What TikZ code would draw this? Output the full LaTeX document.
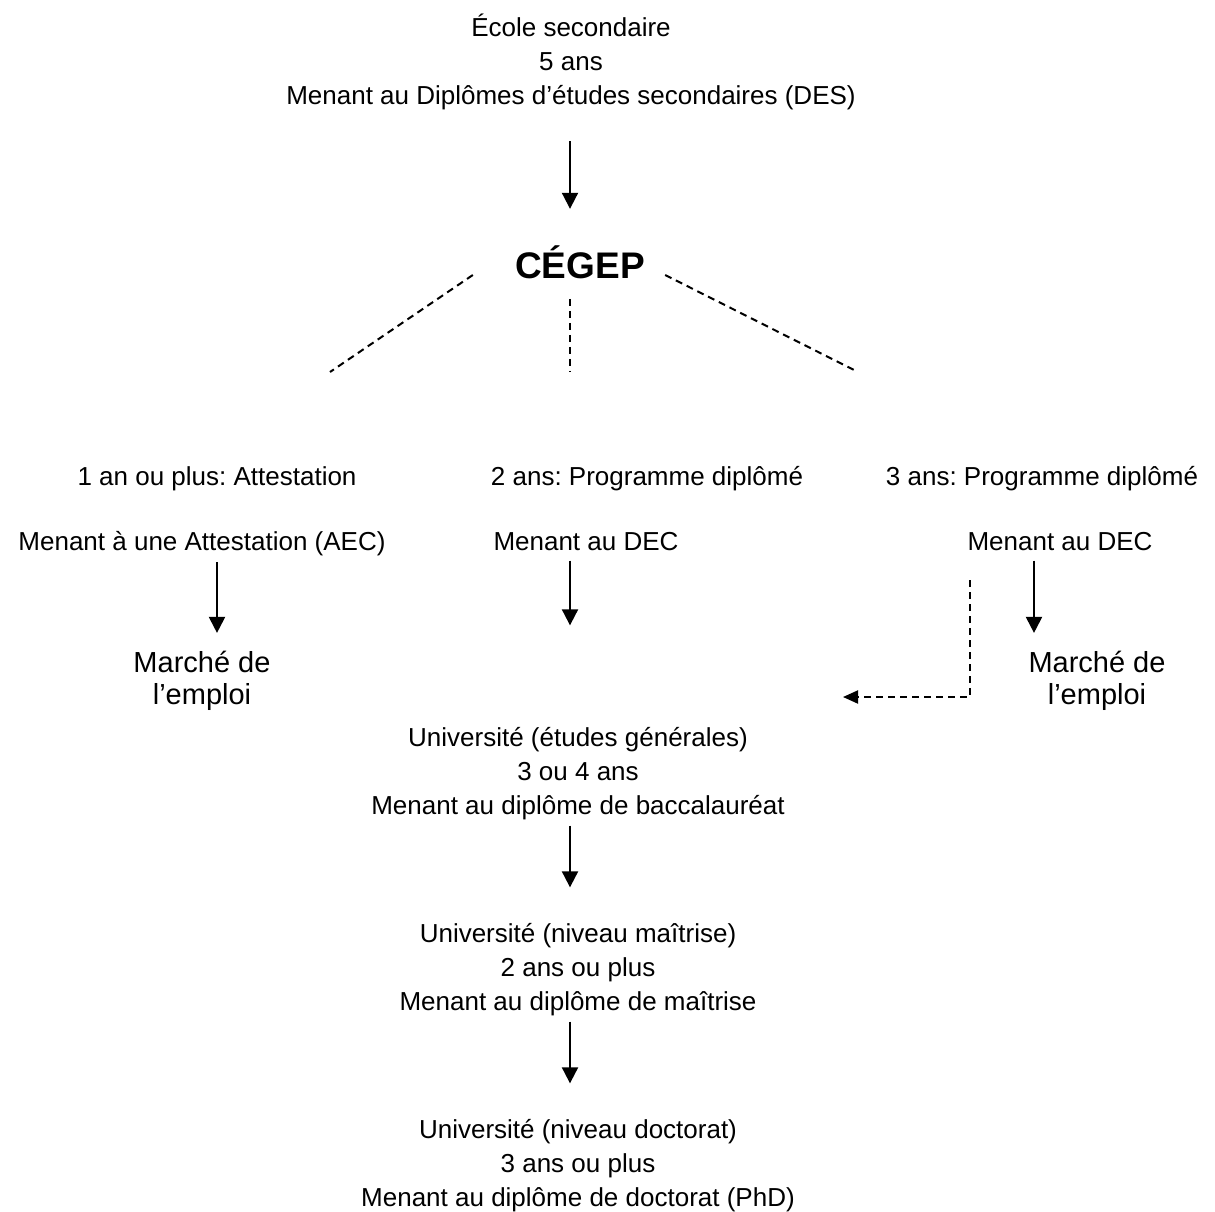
\documentclass[tikz,border=0pt]{standalone}
\usepackage{fontspec}
\setmainfont{Liberation Sans}
\usetikzlibrary{arrows.meta}
\frenchspacing

\begin{document}
\begin{tikzpicture}[x=0.5pt, y=-0.5pt, font=\fontsize{13}{17}\selectfont,
	txt/.style={align=center, inner sep=0pt},
	flow/.style={line width=1pt, -{Triangle[length=8pt, width=8pt]}},
	branch/.style={line width=1pt, dash pattern=on 3.5pt off 2.5pt},
	jobs/.style={txt, font=\fontsize{14.5}{16}\selectfont}]
	\useasboundingbox (0,0) rectangle (1215,1211);
	% secondaire et cegep
	\node[txt] (ecole) at (571,62) {École secondaire\\5 ans\\Menant au Diplômes d’études secondaires (DES)};
	\node[txt, anchor=base, font=\fontsize{18.5}{20}\selectfont\bfseries] (cegep) at (580,278) {CÉGEP};
	\draw[flow, shorten <=15.5pt, shorten >=18pt] (ecole.south -| 570,0) -- (cegep.north -| 570,0);
	% les trois branches
	\coordinate (fork1) at (330,372);
	\coordinate (fork2) at (570,372);
	\coordinate (fork3) at (858,372);
	\draw[branch] ([shift={(-21pt,1.5pt)}]cegep.base west) -- (fork1);
	\draw[branch] ([shift={(-5pt,-10pt)}]cegep.south) -- (fork2);
	\draw[branch] ([shift={(10pt,1.5pt)}]cegep.base east) -- (fork3);
	\node[txt, anchor=base] (attest) at (217,485) {1 an ou plus: Attestation};
	\node[txt, anchor=base] (prog2) at (647,485) {2 ans: Programme diplômé};
	\node[txt, anchor=base] (prog3) at (1042,485) {3 ans: Programme diplômé};
	\node[txt, anchor=base] (aec) at (202,550) {Menant à une Attestation (AEC)};
	\node[txt, anchor=base] (dec2) at (586,550) {Menant au DEC};
	\node[txt, anchor=base] (dec3) at (1060,550) {Menant au DEC};
	\node[jobs] (emploi1) at (202,681) {Marché de\\l’emploi};
	\node[jobs] (emploi3) at (1097,681) {Marché de\\l’emploi};
	% universite
	\node[txt] (bac) at (578,774) {Université (études générales)\\3 ou 4 ans\\Menant au diplôme de baccalauréat};
	\node[txt] (maitrise) at (578,970) {Université (niveau maîtrise)\\2 ans ou plus\\Menant au diplôme de maîtrise};
	\node[txt] (doctorat) at (578,1166) {Université (niveau doctorat)\\3 ans ou plus\\Menant au diplôme de doctorat (PhD)};
	\draw[flow, shorten <=3.25pt, shorten >=9pt] ([xshift=7.5pt]aec.south) -- ([xshift=7.5pt]aec.south |- emploi1.north);
	\draw[flow, shorten <=5pt, shorten >=51pt] ([xshift=-8pt]dec2.south) -- ([xshift=-8pt]dec2.south |- bac.north);
	\draw[flow, shorten <=5pt, shorten >=9pt] ([xshift=-13pt]dec3.south) -- ([xshift=-13pt]dec3.south |- emploi3.north);
	\coordinate (passerelle) at (843,697);
	\draw[branch, -{Triangle[length=7.5pt, width=6.5pt]}] ([shift={(-45pt,-14.75pt)}]dec3.south) |- (passerelle);
	\draw[flow, shorten <=2.5pt, shorten >=18pt] (bac.south -| 570,0) -- (maitrise.north -| 570,0);
	\draw[flow, shorten <=2.5pt, shorten >=18pt] (maitrise.south -| 570,0) -- (doctorat.north -| 570,0);
\end{tikzpicture}
\end{document}
